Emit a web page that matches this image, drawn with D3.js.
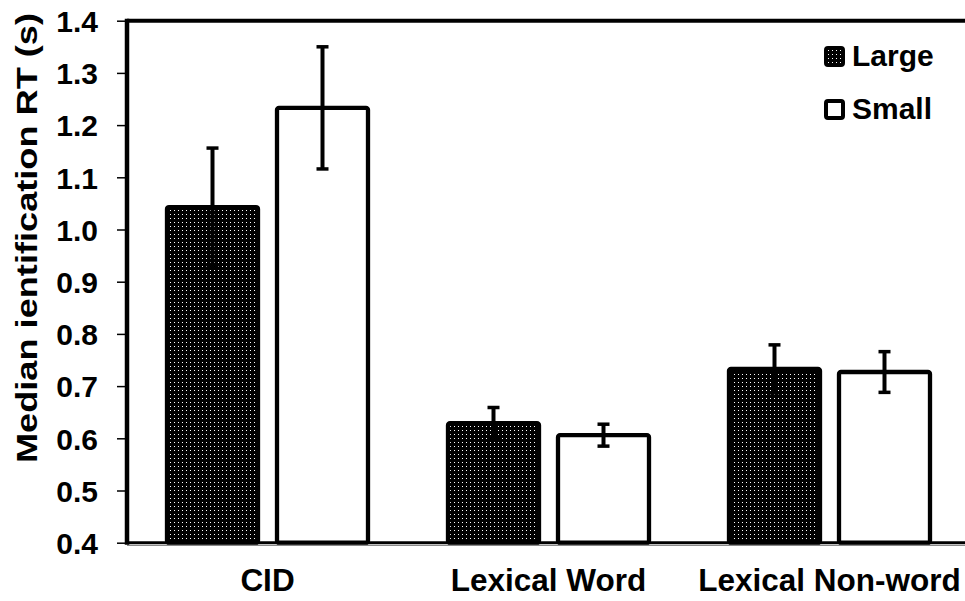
<!DOCTYPE html>
<html>
<head>
<meta charset="utf-8">
<script src="https://cdn.jsdelivr.net/npm/d3@7"></script>
<style>
  body { margin: 0; background: #fff; }
  text { font-family: "Liberation Sans", Arial, sans-serif; font-weight: bold; fill: #000; }
</style>
</head>
<body>
<svg width="965" height="601"></svg>
<script>
// data
var categories = ['CID', 'Lexical Word', 'Lexical Non-word']
var series = ['Large', 'Small']
var large = [1.043, 0.629, 0.733]
var small = [1.233, 0.606, 0.727]
var largeErr = [0.113, 0.03, 0.046]
var smallErr = [0.117, 0.021, 0.039]
var yTicks = [0.4, 0.5, 0.6, 0.7, 0.8, 0.9, 1.0, 1.1, 1.2, 1.3, 1.4]

var rows = []
categories.forEach(function(c, i) {
    rows.push({cat: c, s: 'Large', v: large[i], e: largeErr[i]})
    rows.push({cat: c, s: 'Small', v: small[i], e: smallErr[i]})
})

var svg = d3.select('svg')
var plotLeft = 127, plotTop = 20.7, plotBottom = 542.7

// black fill with small white dots
var defs = svg.append('defs')
var pat = defs.append('pattern')
    .attr('id', 'dots')
    .attr('patternUnits', 'userSpaceOnUse')
    .attr('width', 4).attr('height', 4)
pat.append('rect').attr('width', 4).attr('height', 4).attr('fill', '#000')
pat.append('rect').attr('x', 2).attr('y', 2).attr('width', 1).attr('height', 1).attr('fill', '#fff')

var x = d3.scaleBand()
    .domain(categories)
    .range([plotLeft, 970])
var xs = d3.scaleBand()
    .domain(series)
    .range([0, x.bandwidth()])
    .paddingInner(19 / 110)
    .paddingOuter(40 / 110)
var y = d3.scaleLinear()
    .domain([0.4, 1.4])
    .range([plotBottom, plotTop])

// y ticks and labels
var yAxis = d3.axisLeft(y)
    .tickValues(yTicks)
    .tickSize(10)
    .tickPadding(19)
    .tickFormat(d3.format('.1f'))
var gy = svg.append('g')
    .attr('transform', 'translate(' + plotLeft + ',0)')
    .call(yAxis)
gy.select('.domain').remove()
gy.selectAll('line').attr('stroke', '#000').attr('stroke-width', 1.5)
gy.selectAll('text')
    .style('font-size', '30px')
    .style('font-family', '"Liberation Sans", Arial, sans-serif')
    .style('font-weight', 'bold')
    .attr('dy', '0.36em')

// bars
svg.append('g').selectAll('rect')
    .data(rows)
    .enter()
    .append('rect')
    .attr('x', function(d) { return x(d.cat) + xs(d.s) })
    .attr('y', function(d) { return y(d.v) })
    .attr('width', xs.bandwidth())
    .attr('height', function(d) { return plotBottom - y(d.v) })
    .attr('rx', 2)
    .attr('fill', function(d) { return d.s == 'Large' ? 'url(#dots)' : '#fff' })
    .attr('stroke', '#000')
    .attr('stroke-width', 4.3)

// error bars
var eb = svg.append('g').selectAll('g')
    .data(rows)
    .enter()
    .append('g')
    .attr('transform', function(d) { return 'translate(' + (x(d.cat) + xs(d.s) + xs.bandwidth() / 2) + ',0)' })
eb.append('line')
    .attr('y1', function(d) { return y(d.v + d.e) })
    .attr('y2', function(d) { return y(d.v - d.e) })
    .attr('stroke', '#000').attr('stroke-width', 4)
eb.selectAll('.cap')
    .data(function(d) { return [d.v + d.e, d.v - d.e] })
    .enter()
    .append('line')
    .attr('x1', -6).attr('x2', 6)
    .attr('y1', function(v) { return y(v) })
    .attr('y2', function(v) { return y(v) })
    .attr('stroke', '#000').attr('stroke-width', 3.5)

// frame
svg.append('line').attr('x1', plotLeft).attr('x2', 965).attr('y1', plotTop).attr('y2', plotTop)
    .attr('stroke', '#000').attr('stroke-width', 4)
svg.append('line').attr('x1', plotLeft).attr('x2', plotLeft).attr('y1', plotTop - 2).attr('y2', plotBottom + 2)
    .attr('stroke', '#000').attr('stroke-width', 4.5)
svg.append('line').attr('x1', plotLeft).attr('x2', 965).attr('y1', plotBottom).attr('y2', plotBottom)
    .attr('stroke', '#000').attr('stroke-width', 3)
svg.append('line').attr('x1', plotLeft).attr('x2', 965).attr('y1', plotBottom + 2.8).attr('y2', plotBottom + 2.8)
    .attr('stroke', '#888').attr('stroke-width', 1)

// category labels
svg.append('g').selectAll('text')
    .data(categories)
    .enter()
    .append('text')
    .attr('x', function(d) { return x(d) + x.bandwidth() / 2 })
    .attr('y', 591)
    .attr('text-anchor', 'middle')
    .style('font-size', '31.5px')
    .text(function(d) { return d })

// y title
svg.append('text')
    .attr('transform', 'translate(37,238) rotate(-90)')
    .attr('text-anchor', 'middle')
    .attr('textLength', 450)
    .attr('lengthAdjust', 'spacingAndGlyphs')
    .style('font-size', '30px')
    .text('Median ientification RT (s)')

// legend
var lg = svg.append('g').selectAll('g')
    .data(series)
    .enter()
    .append('g')
    .attr('transform', function(d, i) { return 'translate(826,' + (48 + i * 53) + ')' })
lg.append('rect')
    .attr('width', 17).attr('height', 17).attr('rx', 2)
    .attr('fill', function(d) { return d == 'Large' ? 'url(#dots)' : '#fff' })
    .attr('stroke', '#000').attr('stroke-width', 4)
lg.append('text')
    .attr('x', 26).attr('y', 18)
    .style('font-size', '30px')
    .text(function(d) { return d })
</script>
</body>
</html>
